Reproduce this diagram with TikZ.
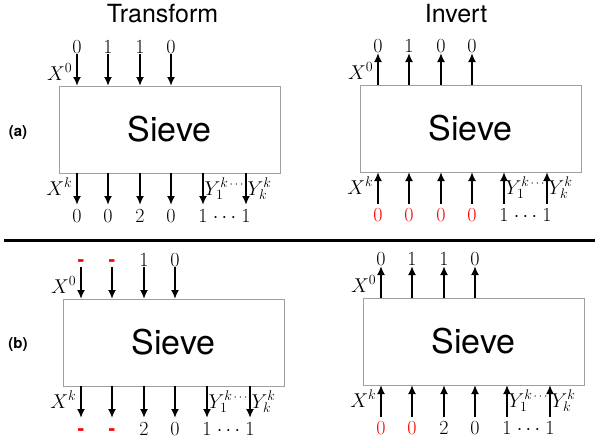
\RequirePackage{fix-cm}
\documentclass[tikz,border=0pt]{standalone}
\usepackage{fontspec}
\setsansfont{TeX Gyre Heros}
\usetikzlibrary{arrows.meta}
\newcommand\rz{\textcolor{red}{0}}
\newcommand\rdash{\textcolor{red}{\sffamily\bfseries -}}
\tikzset{
  sievebox/.style={draw=gray!75, line width=1pt, minimum width=221pt, minimum height=87pt, inner sep=0pt, font=\sffamily\fontsize{34}{40}\selectfont},
  sig/.style={line width=1.8pt},
  fwd/.style={-{Latex[length=9pt,width=8pt]}},
  bwd/.style={{Latex[length=9pt,width=8pt]}-},
  lab/.style={inner sep=0pt, font=\fontsize{20}{24}\selectfont},
  title/.style={inner sep=0pt, font=\sffamily\fontsize{25}{30}\selectfont},
  tag/.style={inner sep=0pt, font=\sffamily\bfseries\fontsize{15}{18}\selectfont},
}
% #1 prefix, #2 x, #3 y, #4 arrow style, #5 top labels, #6 bottom labels
\newcommand\sievepanel[6]{%
\begin{scope}[shift={(#2,#3)}]
  \node[sievebox] (#1box) at (110.5,43.5) {Sieve};
  \foreach \xo [count=\k] in {18,49,81,112}{
    \coordinate (#1t\k) at (\xo,-32);
    \coordinate (#1tb\k) at (\xo,0);
    \coordinate (#1tp\k) at (\xo,-33);
    \draw[sig,#4] (#1t\k) -- (#1tb\k);
  }
  \foreach \xo [count=\k] in {18,49,81,112,144,187}{
    \coordinate (#1bb\k) at (\xo,87);
    \coordinate (#1b\k) at (\xo,119);
    \coordinate (#1bp\k) at (\xo,136);
    \draw[sig,#4] (#1bb\k) -- (#1b\k);
  }
  \foreach \t [count=\k] in {#5}{
    \node[lab, anchor=base] (#1tl\k) at (#1tp\k) {\t};
  }
  \foreach \t [count=\k] in {#6}{
    \node[lab, anchor=base] (#1bl\k) at (#1bp\k) {\t};
  }
  \node[lab, anchor=base] (#1bdots) at (165.5,136) {$\cdots$};
  \node[lab, anchor=base east] (#1x0) at (13.5,-6) {$X^0$};
  \node[lab, anchor=base east] (#1xk) at (13.5,109) {$X^k$};
  \node[lab, anchor=base west] (#1y1) at (145.5,109) {$Y_1^k$};
  \node[lab, anchor=base west] (#1yk) at (188.5,109) {$Y_k^k$};
  \node[inner sep=0pt, font=\fontsize{12}{14}\selectfont] (#1ydots) at (177.5,99) {$\cdots$};
\end{scope}}
\begin{document}
\begin{tikzpicture}[x=1pt,y=-1pt]
  \useasboundingbox (0,0) rectangle (595,439);
  \node[title, anchor=base] (ttrans) at (162.5,23) {Transform};
  \node[title, anchor=base] (tinv) at (456,23) {Invert};
  \node[tag] (taga) at (18,133) {(a)};
  \node[tag] (tagb) at (18,345) {(b)};
  \coordinate (rulel) at (4,240);
  \coordinate (ruler) at (595,240);
  \draw[line width=3pt] (rulel) -- (ruler);
  \sievepanel{al}{59}{86}{fwd}{0,1,1,0}{0,0,2,0,1,1}
  \sievepanel{ar}{360}{85}{bwd}{0,1,0,0}{\rz,\rz,\rz,\rz,1,1}
  \sievepanel{bl}{63}{299}{fwd}{\rdash,\rdash,1,0}{\rdash,\rdash,2,0,1,1}
  \sievepanel{br}{363}{298}{bwd}{0,1,1,0}{\rz,\rz,2,0,1,1}
\end{tikzpicture}
\end{document}
